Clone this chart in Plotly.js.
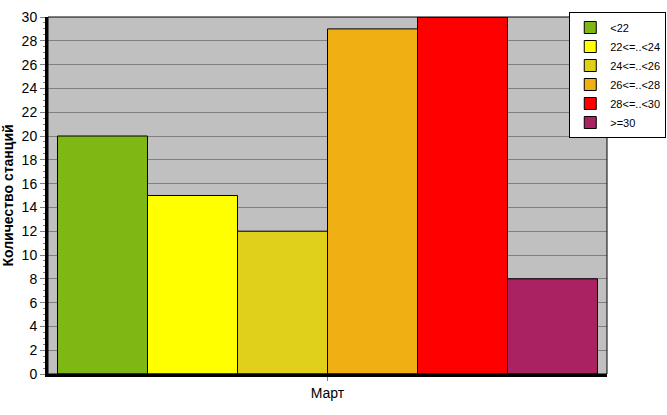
<!DOCTYPE html>
<html><head><meta charset="utf-8">
<script src="https://cdn.plot.ly/plotly-3.0.1.min.js"></script>
<style>html,body{margin:0;padding:0;background:#fff}</style>
</head><body>
<div id="chart" style="width:667px;height:415px"></div>
<script>
var category = ['Март'];
var seriesNames = ['<22', '22<=..<24', '24<=..<26', '26<=..<28', '28<=..<30', '>=30'];
var seriesValues = [20, 15, 12, 29, 30, 8];
var seriesColors = ['#7fb714', '#ffff00', '#e0d01c', '#f0b014', '#ff0000', '#aa2262'];

var traces = seriesNames.map(function(n, i){
  return {type:'bar', x:category, y:[seriesValues[i]], name:n,
    marker:{color:seriesColors[i], line:{color:'#000', width:1}}};
});
var layout = {
  width:667, height:415,
  margin:{l:48, r:60, t:17, b:41, autoexpand:false},
  paper_bgcolor:'#fff', plot_bgcolor:'#c0c0c0',
  font:{family:'Liberation Sans, Arial, sans-serif', color:'#000', size:12},
  barmode:'group', bargap:0.034, bargroupgap:0,
  showlegend:true,
  legend:{x:1.106, y:1.014, xanchor:'right', yanchor:'top', bgcolor:'#fff',
    bordercolor:'#000', borderwidth:1, font:{size:11}, tracegroupgap:0, itemwidth:30},
  xaxis:{showgrid:false, ticks:'outside', ticklen:4, tickcolor:'#808080',
    showline:true, linecolor:'#000', linewidth:3, tickfont:{size:14}},
  yaxis:{range:[0,30], dtick:2, showgrid:true, gridcolor:'#808080', gridwidth:1,
    zeroline:false, showline:true, linecolor:'#000', linewidth:3,
    ticks:'outside', ticklen:5, tickcolor:'#808080', tickfont:{size:14},
    minor:{dtick:0.5, ticks:'outside', ticklen:2, tickcolor:'#808080', showgrid:false},
    title:{text:'Количество станций', font:{size:14, weight:'bold'}, standoff:8}},
  shapes:[{type:'rect', xref:'paper', yref:'paper', x0:0, x1:1, y0:0, y1:1,
    line:{color:'#000', width:1}, layer:'above'}]
};
Plotly.newPlot('chart', traces, layout, {displayModeBar:false});
</script>
</body></html>
